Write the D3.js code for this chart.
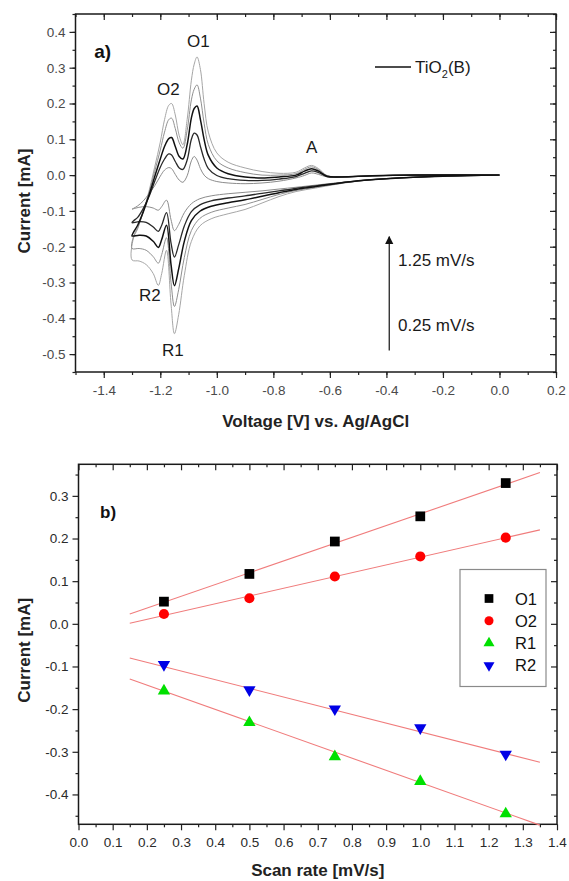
<!DOCTYPE html>
<html>

<head>
    <meta charset="utf-8" />
    <title>TiO2(B) cyclic voltammetry</title>
    <script src="https://d3js.org/d3.v7.min.js"></script>
    <style>
        body {
            margin: 0;
            background: #fff;
        }

        svg {
            display: block;
            font-family: "Liberation Sans", Arial, Helvetica, sans-serif;
        }

        .tick line {
            stroke: #222;
            stroke-width: 1.2;
        }
    </style>
</head>

<body>
    <svg width="569" height="881"></svg>
    <script>
        // ---- data (a): cyclic voltammograms, one per scan rate ----
        var scanRates = [0.25, 0.5, 0.75, 1.0, 1.25];

        // cathodic sweep, 0.0 V -> -1.3 V
        var cathodicV = [0.0, -0.2, -0.4, -0.5, -0.58, -0.65, -0.72, -0.78, -0.84, -0.9, -0.96, -1.02, -1.06, -1.09,
            -1.115, -1.135, -1.15, -1.162, -1.178, -1.195, -1.207, -1.225, -1.25, -1.275, -1.3];
        var cathodic025 = [0, -0.003, -0.01, -0.016, -0.022, -0.028, -0.034, -0.039, -0.044, -0.048, -0.052, -0.058, -0.066, -0.08,
            -0.105, -0.138, -0.155, -0.125, -0.07, -0.088, -0.098, -0.092, -0.088, -0.09, -0.095];
        var cathodic050 = [0, -0.003, -0.01, -0.016, -0.023, -0.03, -0.037, -0.044, -0.051, -0.058, -0.064, -0.072, -0.083, -0.102,
            -0.142, -0.195, -0.229, -0.19, -0.105, -0.14, -0.157, -0.145, -0.132, -0.13, -0.133];
        var cathodic075 = [0, -0.003, -0.01, -0.016, -0.024, -0.032, -0.04, -0.049, -0.059, -0.069, -0.077, -0.087, -0.101, -0.127,
            -0.185, -0.262, -0.309, -0.25, -0.14, -0.18, -0.202, -0.185, -0.17, -0.168, -0.17];
        var cathodic100 = [0, -0.003, -0.01, -0.016, -0.025, -0.034, -0.043, -0.054, -0.068, -0.082, -0.092, -0.104, -0.121, -0.155,
            -0.23, -0.32, -0.367, -0.3, -0.175, -0.222, -0.246, -0.228, -0.21, -0.205, -0.205];
        var cathodic125 = [0, -0.003, -0.01, -0.017, -0.026, -0.036, -0.046, -0.06, -0.078, -0.096, -0.108, -0.122, -0.142, -0.185,
            -0.28, -0.39, -0.443, -0.36, -0.21, -0.275, -0.308, -0.275, -0.25, -0.24, -0.237];

        // anodic sweep, -1.3 V -> 0.0 V (joins the cathodic end)
        var anodicV = [-1.295, -1.28, -1.26, -1.24, -1.22, -1.2, -1.185, -1.17, -1.16, -1.147, -1.133, -1.12, -1.105, -1.09,
            -1.08, -1.07, -1.058, -1.045, -1.03, -1.0, -0.96, -0.9, -0.84, -0.78, -0.72, -0.69, -0.665, -0.64, -0.61,
            -0.56, -0.45, -0.3, 0.0];
        var anodic025 = [-0.093, -0.086, -0.072, -0.052, -0.03, -0.003, 0.014, 0.021, 0.018, 0.002, -0.014, -0.02, -0.002, 0.04,
            0.052, 0.042, 0.018, 0.0, -0.01, -0.018, -0.022, -0.024, -0.022, -0.017, -0.008, -0.001, 0.006, 0.002, -0.005,
            -0.005, -0.002, 0, 0];
        var anodic050 = [-0.128, -0.118, -0.093, -0.06, -0.018, 0.022, 0.045, 0.059, 0.056, 0.038, 0.02, 0.016, 0.042, 0.1,
            0.117, 0.112, 0.08, 0.045, 0.018, -0.001, -0.01, -0.015, -0.015, -0.011, -0.004, 0.005, 0.012, 0.007, -0.004,
            -0.005, -0.002, 0, 0];
        var anodic075 = [-0.16, -0.14, -0.102, -0.056, -0.005, 0.045, 0.08, 0.102, 0.105, 0.08, 0.052, 0.045, 0.085, 0.16,
            0.186, 0.193, 0.155, 0.1, 0.055, 0.02, 0.004, -0.005, -0.008, -0.005, 0.0, 0.011, 0.018, 0.011, -0.003,
            -0.005, -0.002, 0, 0];
        var anodic100 = [-0.172, -0.147, -0.102, -0.05, 0.01, 0.07, 0.12, 0.155, 0.159, 0.13, 0.09, 0.075, 0.125, 0.21,
            0.24, 0.252, 0.215, 0.145, 0.085, 0.04, 0.02, 0.007, 0.0, 0.0, 0.004, 0.016, 0.023, 0.015, -0.002,
            -0.005, -0.002, 0, 0];
        var anodic125 = [-0.176, -0.15, -0.1, -0.045, 0.022, 0.092, 0.155, 0.195, 0.2, 0.168, 0.11, 0.085, 0.155, 0.265,
            0.31, 0.33, 0.295, 0.2, 0.12, 0.062, 0.036, 0.02, 0.01, 0.005, 0.008, 0.02, 0.027, 0.018, -0.001,
            -0.005, -0.002, 0, 0];

        var cathodicSets = [cathodic025, cathodic050, cathodic075, cathodic100, cathodic125];
        var anodicSets = [anodic025, anodic050, anodic075, anodic100, anodic125];
        var cvColors = ["#8c8c8c", "#2a2a2a", "#111111", "#8f8f8f", "#a6a6a6"];
        var cvWidths = [1, 1.3, 1.5, 1, 1];

        var voltageTicks = [-1.4, -1.2, -1.0, -0.8, -0.6, -0.4, -0.2, 0.0, 0.2];
        var cvCurrentTicks = [-0.5, -0.4, -0.3, -0.2, -0.1, 0.0, 0.1, 0.2, 0.3, 0.4];

        // ---- data (b): peak currents vs scan rate ----
        var peakO1 = [0.052, 0.117, 0.193, 0.252, 0.33];
        var peakO2 = [0.023, 0.06, 0.111, 0.158, 0.202];
        var peakR1 = [-0.155, -0.229, -0.309, -0.367, -0.443];
        var peakR2 = [-0.098, -0.157, -0.202, -0.246, -0.308];
        var peakNames = ["O1", "O2", "R1", "R2"];
        var fitRange = [0.15, 1.35];

        var rateTicks = [0.0, 0.1, 0.2, 0.3, 0.4, 0.5, 0.6, 0.7, 0.8, 0.9, 1.0, 1.1, 1.2, 1.3, 1.4];
        var peakCurrentTicks = [-0.4, -0.3, -0.2, -0.1, 0.0, 0.1, 0.2, 0.3];

        var svg = d3.select("svg");
        var fmt = function (d) { return d.toFixed(1); };

        // frame with outward ticks on bottom/left and inward mirror ticks on top/right
        function drawAxes(g, x, y, w, h, xMajor, xMinor, yMajor, yMinor, labelColor) {
            function put(axis, tx, ty) {
                var a = g.append("g").attr("transform", "translate(" + tx + "," + ty + ")").call(axis);
                a.select(".domain").remove();
                return a;
            }
            put(d3.axisBottom(x).tickValues(xMinor).tickSize(3).tickFormat(""), 0, h);
            put(d3.axisTop(x).tickValues(xMinor).tickSize(-3).tickFormat(""), 0, 0);
            put(d3.axisTop(x).tickValues(xMajor).tickSize(-6).tickFormat(""), 0, 0);
            put(d3.axisLeft(y).tickValues(yMinor).tickSize(3).tickFormat(""), 0, 0);
            put(d3.axisRight(y).tickValues(yMinor).tickSize(-3).tickFormat(""), w, 0);
            put(d3.axisRight(y).tickValues(yMajor).tickSize(-6).tickFormat(""), w, 0);

            var bx = put(d3.axisBottom(x).tickValues(xMajor).tickSize(6).tickPadding(7).tickFormat(fmt), 0, h);
            var ly = put(d3.axisLeft(y).tickValues(yMajor).tickSize(6).tickPadding(4).tickFormat(fmt), 0, 0);
            [bx, ly].forEach(function (a) {
                a.selectAll("text")
                    .style("font-family", "'Liberation Sans', Arial, sans-serif")
                    .style("font-size", "13.5px")
                    .attr("fill", labelColor);
            });

            g.append("rect")
                .attr("width", w)
                .attr("height", h)
                .attr("fill", "none")
                .attr("stroke", "#1a1a1a")
                .attr("stroke-width", 1.5);
        }

        // ===================== chart a) =====================
        var ma = { left: 75.5, top: 14, right: 556, bottom: 372 };
        var wa = ma.right - ma.left, ha = ma.bottom - ma.top;
        var ga = svg.append("g").attr("transform", "translate(" + ma.left + "," + ma.top + ")");

        var xa = d3.scaleLinear().domain([-1.5, 0.2]).range([0, wa]);
        var ya = d3.scaleLinear().domain([-0.55, 0.45]).range([ha, 0]);

        drawAxes(ga, xa, ya, wa, ha, voltageTicks, d3.range(-1.5, 0.25, 0.1),
            cvCurrentTicks, d3.range(-0.55, 0.46, 0.05), "#4a4a4a");

        var cvLine = d3.line()
            .x(function (d) { return xa(d[0]); })
            .y(function (d) { return ya(d[1]); })
            .curve(d3.curveCatmullRom.alpha(0.5));

        // draw light curves first so the dark ones sit on top
        [4, 3, 0, 1, 2].forEach(function (i) {
            var pts = cathodicV.map(function (v, k) { return [v, cathodicSets[i][k]]; })
                .concat(anodicV.map(function (v, k) { return [v, anodicSets[i][k]]; }));
            ga.append("path")
                .attr("d", cvLine(pts))
                .attr("fill", "none")
                .attr("stroke", cvColors[i])
                .attr("stroke-width", cvWidths[i])
                .attr("stroke-linejoin", "round");
        });

        var noteStyle = function (sel, size) {
            return sel.attr("fill", "#1a1a1a").style("font-size", size + "px");
        };

        ga.append("text").attr("x", xa(-1.43) - 1).attr("y", 58 - ma.top)
            .text("a)").attr("font-weight", "bold").attr("fill", "#111").style("font-size", "19px");
        noteStyle(ga.append("text").attr("x", 187 - ma.left).attr("y", 47 - ma.top).text("O1"), 17);
        noteStyle(ga.append("text").attr("x", 157 - ma.left).attr("y", 95 - ma.top).text("O2"), 17);
        noteStyle(ga.append("text").attr("x", 306 - ma.left).attr("y", 153 - ma.top).text("A"), 17);
        noteStyle(ga.append("text").attr("x", 139 - ma.left).attr("y", 301 - ma.top).text("R2"), 17);
        noteStyle(ga.append("text").attr("x", 162 - ma.left).attr("y", 356 - ma.top).text("R1"), 17);

        // legend
        ga.append("line")
            .attr("x1", 375 - ma.left).attr("x2", 411 - ma.left)
            .attr("y1", 67 - ma.top).attr("y2", 67 - ma.top)
            .attr("stroke", "#111").attr("stroke-width", 1.3);
        var leg = noteStyle(ga.append("text").attr("x", 415 - ma.left).attr("y", 73 - ma.top), 17);
        leg.append("tspan").text("TiO");
        leg.append("tspan").text("2").attr("dy", 5).style("font-size", "11px");
        leg.append("tspan").text("(B)").attr("dy", -5);

        // scan-rate arrow
        svg.append("defs").append("marker")
            .attr("id", "head")
            .attr("viewBox", "0 0 10 10")
            .attr("refX", 9).attr("refY", 5)
            .attr("markerWidth", 7).attr("markerHeight", 9)
            .attr("orient", "auto")
            .append("path").attr("d", "M0,0 L10,5 L0,10 z").attr("fill", "#111");
        ga.append("line")
            .attr("x1", xa(-0.39)).attr("x2", xa(-0.39))
            .attr("y1", ya(-0.49)).attr("y2", ya(-0.172))
            .attr("stroke", "#111").attr("stroke-width", 1.2)
            .attr("marker-end", "url(#head)");
        noteStyle(ga.append("text").attr("x", 398 - ma.left).attr("y", 266 - ma.top).text("1.25 mV/s"), 17);
        noteStyle(ga.append("text").attr("x", 398 - ma.left).attr("y", 331 - ma.top).text("0.25 mV/s"), 17);

        // axis titles
        svg.append("text")
            .attr("x", (ma.left + ma.right) / 2).attr("y", 427)
            .attr("text-anchor", "middle").attr("font-weight", "bold").attr("fill", "#222")
            .style("font-size", "17px")
            .text("Voltage [V] vs. Ag/AgCl");
        svg.append("text")
            .attr("transform", "translate(30," + ((ma.top + ma.bottom) / 2 + 8) + ") rotate(-90)")
            .attr("text-anchor", "middle").attr("font-weight", "bold").attr("fill", "#222")
            .style("font-size", "17px")
            .text("Current [mA]");

        // ===================== chart b) =====================
        var mb = { left: 78.5, top: 464.3, right: 557, bottom: 824.3 };
        var wb = mb.right - mb.left, hb = mb.bottom - mb.top;
        var gb = svg.append("g").attr("transform", "translate(" + mb.left + "," + mb.top + ")");

        var xb = d3.scaleLinear().domain([0, 1.4]).range([0, wb]);
        var yb = d3.scaleLinear().domain([-0.47, 0.374]).range([hb, 0]);

        drawAxes(gb, xb, yb, wb, hb, rateTicks, d3.range(0.05, 1.4, 0.1),
            peakCurrentTicks, d3.range(-0.45, 0.36, 0.1), "#2a2a2a");

        var peakSets = [peakO1, peakO2, peakR1, peakR2];
        var peakColors = ["#000000", "#ff0000", "#00e000", "#0000e6"];
        var peakSymbols = [
            { type: d3.symbolSquare, size: 95, rot: 0 },
            { type: d3.symbolCircle, size: 80, rot: 0 },
            { type: d3.symbolTriangle, size: 66, rot: 0 },
            { type: d3.symbolTriangle, size: 66, rot: 180 }
        ];

        // linear fits (least squares from the points)
        peakSets.forEach(function (vals) {
            var mx = d3.mean(scanRates), my = d3.mean(vals);
            var sxy = d3.sum(scanRates, function (r, i) { return (r - mx) * (vals[i] - my); });
            var sxx = d3.sum(scanRates, function (r) { return (r - mx) * (r - mx); });
            var slope = sxy / sxx, icpt = my - slope * mx;
            gb.append("line")
                .attr("x1", xb(fitRange[0])).attr("y1", yb(icpt + slope * fitRange[0]))
                .attr("x2", xb(fitRange[1])).attr("y2", yb(icpt + slope * fitRange[1]))
                .attr("stroke", "#f07c7c").attr("stroke-width", 1.1);
        });

        peakSets.forEach(function (vals, s) {
            var sym = peakSymbols[s];
            gb.selectAll(".pt" + s)
                .data(vals)
                .enter()
                .append("path")
                .attr("d", d3.symbol().type(sym.type).size(sym.size))
                .attr("transform", function (d, i) {
                    var dy = sym.type === d3.symbolTriangle ? (sym.rot ? -1 : 1) : 0;
                    return "translate(" + xb(scanRates[i]) + "," + (yb(d) + dy) + ") rotate(" + sym.rot + ")";
                })
                .attr("fill", peakColors[s]);
        });

        gb.append("text").attr("x", 100 - mb.left).attr("y", 518 - mb.top)
            .text("b)").attr("font-weight", "bold").attr("fill", "#111").style("font-size", "17px");

        // legend box
        var lg = gb.append("g").attr("transform", "translate(" + (460 - mb.left) + "," + (569.5 - mb.top) + ")");
        lg.append("rect").attr("width", 86).attr("height", 117)
            .attr("fill", "#fff").attr("stroke", "#8a8a8a").attr("stroke-width", 1.2);
        peakNames.forEach(function (name, s) {
            var sym = peakSymbols[s];
            var cy = 29 + s * 22.3;
            lg.append("path")
                .attr("d", d3.symbol().type(sym.type).size(sym.size * 0.8))
                .attr("transform", "translate(29," + cy + ") rotate(" + sym.rot + ")")
                .attr("fill", peakColors[s]);
            lg.append("text").attr("x", 55).attr("y", cy + 6)
                .attr("fill", "#111").style("font-size", "16.5px").text(name);
        });

        svg.append("text")
            .attr("x", (mb.left + mb.right) / 2).attr("y", 876)
            .attr("text-anchor", "middle").attr("font-weight", "bold").attr("fill", "#222")
            .style("font-size", "17px")
            .text("Scan rate [mV/s]");
        svg.append("text")
            .attr("transform", "translate(30," + ((mb.top + mb.bottom) / 2 + 6) + ") rotate(-90)")
            .attr("text-anchor", "middle").attr("font-weight", "bold").attr("fill", "#222")
            .style("font-size", "17px")
            .text("Current [mA]");
    </script>
</body>

</html>
